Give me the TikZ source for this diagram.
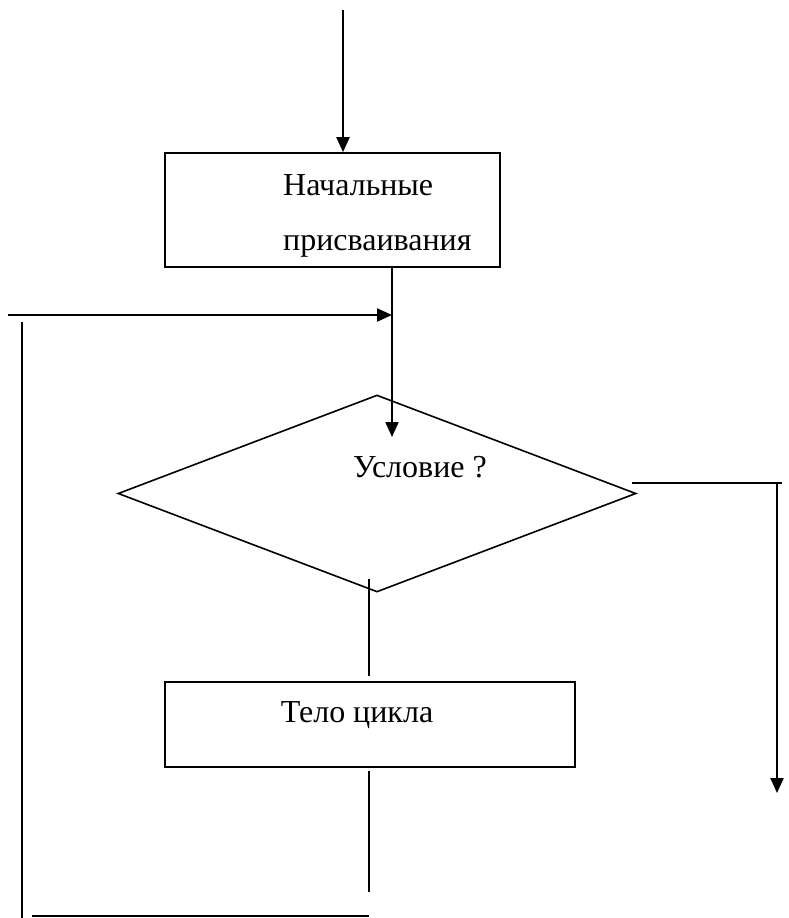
\documentclass[tikz,border=0pt]{standalone}
\usepackage{fontspec}
\setmainfont{Liberation Serif}
\usetikzlibrary{shapes.geometric,arrows.meta}
\begin{document}
\begin{tikzpicture}[x=1pt,y=-1pt,
  thin line/.style={line width=1.6pt},
  arr/.style={line width=2.2pt,-{Triangle[length=15pt,width=13pt]}},
  boxnode/.style={draw,line width=1.6pt,inner sep=0pt},
  txt/.style={font=\fontsize{32}{38}\selectfont,inner sep=0pt}]
\useasboundingbox (0,0) rectangle (788,918);
% boxes
\node[boxnode,minimum width=335pt,minimum height=114pt] (b1) at (332.5,210) {};
\node[txt,anchor=base west] (t1a) at (283,195) {Начальные};
\node[txt,anchor=base west] (t1b) at (283,250) {присваивания};
\node[draw,diamond,line width=1.6pt,inner sep=0pt,minimum width=518pt,minimum height=197pt] (d) at (377,493.5) {};
\node[txt,anchor=base] (t2) at (420,477) {Условие ?};
\node[boxnode,minimum width=410pt,minimum height=85pt] (b2) at (370,724.5) {};
\node[txt,anchor=base] (t3) at (357,722) {Тело цикла};
% coordinates
\coordinate (top) at (343,10);
\coordinate (c1) at (392,437);
\coordinate (l1) at (8,315);
\coordinate (lv1) at (22,322);
\coordinate (lv2) at (22,918);
\coordinate (bh1) at (32,916);
\coordinate (bh2) at (369,916);
\coordinate (m1) at (369,579);
\coordinate (m2) at (369,676);
\coordinate (m3) at (369,771);
\coordinate (m4) at (369,892);
\coordinate (r1) at (632,483);
\coordinate (r2) at (782,483);
\coordinate (r3) at (777,483);
\coordinate (r4) at (777,793);
% connectors
\draw[arr] (top) -- (top |- b1.north);
\draw[arr] (c1 |- b1.south) -- (c1);
\draw[arr] (l1) -- (l1 -| c1);
\draw[thin line] (lv1) -- (lv2);
\draw[thin line] (bh1) -- (bh2);
\draw[thin line] (m1) -- (m2);
\draw[thin line] (m3) -- (m4);
\draw[thin line] (r1) -- (r2);
\draw[arr] (r3) -- (r4);
\end{tikzpicture}
\end{document}
